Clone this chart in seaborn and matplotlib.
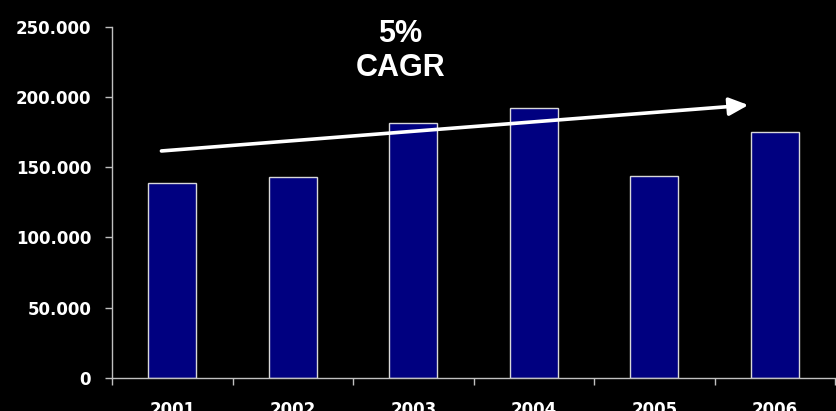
import matplotlib
matplotlib.use("Agg")
import matplotlib.pyplot as plt
import matplotlib.ticker as mticker
import seaborn as sns
import pandas as pd

# data
years = ["2001", "2002", "2003", "2004", "2005", "2006"]
revenue = [138700, 143200, 181200, 192300, 143700, 174800]
y_ticks = [0, 50000, 100000, 150000, 200000, 250000]
cagr_label = "5%\nCAGR"
# trend arrow, from / to (category position, value)
arrow_start = (-0.09, 161500)
arrow_end = (4.78, 194200)

sns.set_theme(style="white", rc={
    "figure.facecolor": "black",
    "axes.facecolor": "black",
    "savefig.facecolor": "black",
})
plt.rcParams["font.family"] = ["DejaVu Sans"]

df = pd.DataFrame({"year": years, "revenue": revenue})

fig = plt.figure(figsize=(8.36, 4.11), dpi=100)
ax = fig.add_axes([0.134, 0.081, 0.865, 0.854])

sns.barplot(data=df, x="year", y="revenue", color="#000080", saturation=1,
            width=0.4, edgecolor="#d8d8d8", linewidth=1.0, ax=ax)

ax.set_xlim(-0.5, len(years) - 0.5)
ax.set_ylim(0, 250000)
ax.set_xlabel("")
ax.set_ylabel("")

ax.set_yticks(y_ticks)
ax.yaxis.set_major_formatter(mticker.FuncFormatter(
    lambda v, _: "0" if v == 0 else f"{v:,.0f}".replace(",", ".")))

# category boundaries as tick marks, labels centred without marks
ax.set_xticks([i - 0.5 for i in range(len(years) + 1)], minor=True)
ax.tick_params(axis="x", which="major", bottom=True, length=0, pad=17,
               colors="white", labelsize=12)
ax.tick_params(axis="x", which="minor", bottom=True, length=5, width=1,
               color="#c0c0c0", direction="out")
ax.tick_params(axis="y", which="major", left=True, length=5, width=1,
               color="#c0c0c0", direction="out", pad=10, labelcolor="white",
               labelsize=12)
for lbl in ax.get_xticklabels() + ax.get_yticklabels():
    lbl.set_fontweight("bold")

for side in ["top", "right"]:
    ax.spines[side].set_visible(False)
for side in ["left", "bottom"]:
    ax.spines[side].set_color("#c0c0c0")
    ax.spines[side].set_linewidth(1)

ax.annotate("", xy=arrow_end, xytext=arrow_start,
            arrowprops=dict(arrowstyle="-|>,head_length=0.58,head_width=0.27",
                            mutation_scale=20, lw=2.6, color="white",
                            shrinkA=0, shrinkB=0))

ax.text(1.89, 232700, cagr_label, ha="center", va="center", color="white",
        fontsize=22, fontweight="bold", family=["Liberation Sans", "DejaVu Sans"],
        linespacing=1.2)

fig.savefig("out.png", dpi=100, facecolor="black")
